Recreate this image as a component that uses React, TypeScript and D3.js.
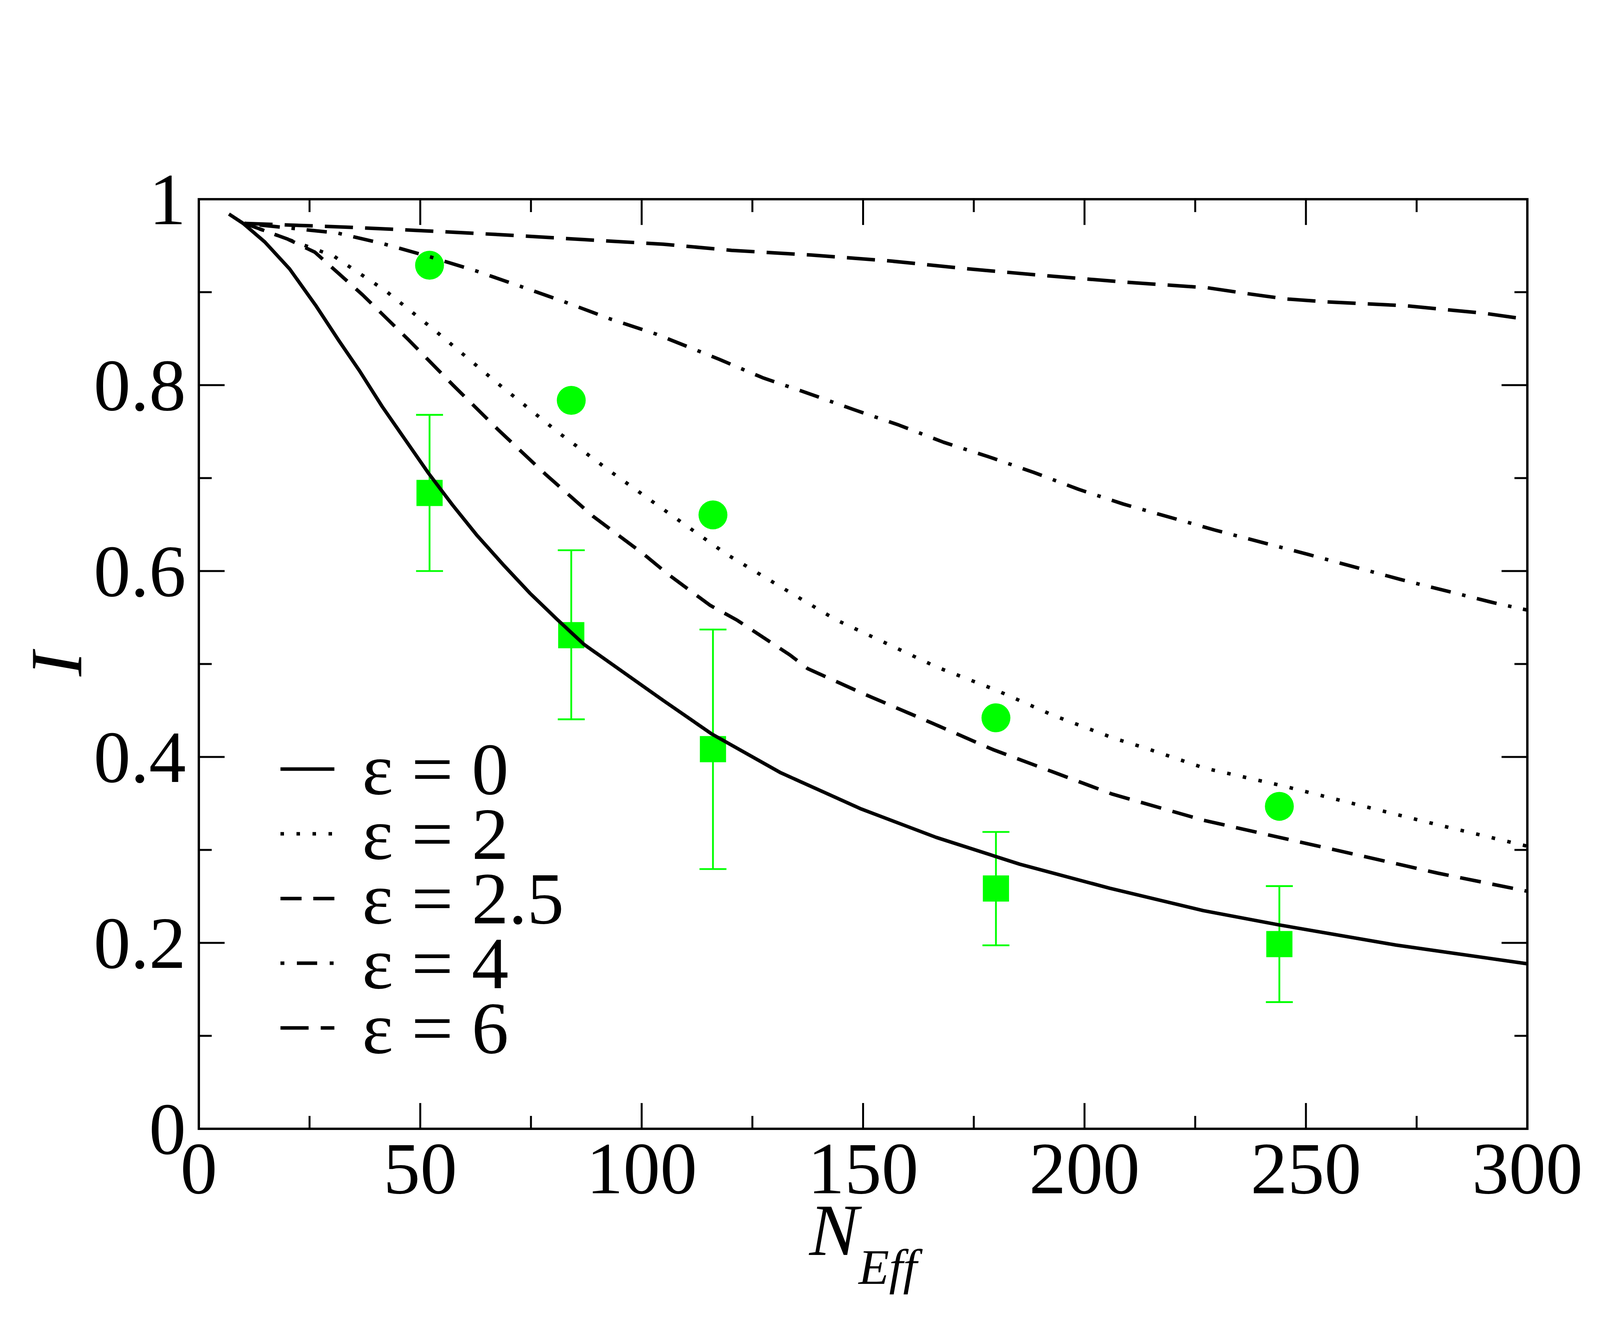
import React from "react";
import * as d3 from "d3";

// ---- data ----
const eps0: [number, number][] = [
  [6.8, 0.984], [10.0, 0.974], [14.9, 0.954], [20.5, 0.925], [26.5, 0.885], [31.6, 0.848],
  [36.2, 0.816], [41.4, 0.777], [46.5, 0.742], [51.9, 0.705], [57.3, 0.671], [62.7, 0.639],
  [68.7, 0.607], [74.8, 0.576], [80.9, 0.548], [87.0, 0.521], [105.1, 0.46], [115.9, 0.4245],
  [131.4, 0.383], [149.6, 0.344], [166.5, 0.3135], [185.4, 0.2846], [205.7, 0.2588],
  [226.8, 0.2347], [244.0, 0.2193], [270.3, 0.1977], [300, 0.1775],
];
const eps2: [number, number][] = [
  [10.3, 0.974], [30.4, 0.939], [42.3, 0.901], [53.5, 0.858], [67.2, 0.803], [81.2, 0.749],
  [92.7, 0.708], [104.4, 0.668], [119.2, 0.618], [131.4, 0.583], [143.9, 0.5475],
  [156.7, 0.519], [166.5, 0.497], [180.0, 0.472], [192.8, 0.445], [206.7, 0.42],
  [213.5, 0.41], [227.1, 0.388], [244.7, 0.369], [262.2, 0.348], [279.8, 0.327], [300, 0.304],
];
const eps25: [number, number][] = [
  [10.3, 0.974], [20.1, 0.957], [26.2, 0.943], [37.0, 0.897], [47.3, 0.849], [57.4, 0.8],
  [67.6, 0.752], [78.2, 0.7045], [89.0, 0.659], [100.5, 0.618], [106.1, 0.596],
  [115.5, 0.563], [121.6, 0.547], [133.4, 0.51], [137.5, 0.495], [149.6, 0.469],
  [165.8, 0.436], [179.3, 0.408], [192.8, 0.384], [206.3, 0.36], [226.8, 0.332],
  [244.0, 0.3135], [262.2, 0.294], [279.8, 0.275], [300, 0.2555],
];
const eps4: [number, number][] = [
  [10.3, 0.974], [31.3, 0.9636], [41.7, 0.952], [52.2, 0.938], [62.5, 0.923], [72.8, 0.906],
  [82.9, 0.889], [93.0, 0.871], [103.2, 0.855], [117.4, 0.828], [127.3, 0.808],
  [137.7, 0.791], [147.7, 0.774], [158.1, 0.757], [168.2, 0.7385], [178.3, 0.723],
  [188.6, 0.706], [198.6, 0.688], [208.8, 0.672], [229.5, 0.644], [250.4, 0.618],
  [271.3, 0.591], [292.3, 0.566], [300, 0.558],
];
const eps6: [number, number][] = [
  [10.3, 0.974], [33.1, 0.97], [51.05, 0.966], [69.1, 0.9616], [87.1, 0.9565],
  [104.9, 0.9516], [120.3, 0.945], [138.1, 0.94], [156.0, 0.9336], [173.9, 0.925],
  [191.8, 0.9175], [210.0, 0.9105], [227.8, 0.9047], [236.6, 0.8985], [245.5, 0.8927],
  [254.5, 0.8896], [272.5, 0.8854], [290.4, 0.8772], [300, 0.8707],
];

const circleN = [52.1, 84.1, 116.1, 180.0, 244.0];
const circleI = [0.929, 0.7836, 0.6604, 0.4421, 0.3469];

const squareN = [52.1, 84.1, 116.1, 180.0, 244.0];
const squareI = [0.684, 0.531, 0.4084, 0.2585, 0.1987];
const squareHi = [0.768, 0.6224, 0.5371, 0.3193, 0.2611];
const squareLo = [0.6, 0.4405, 0.2794, 0.1974, 0.1363];

const legendLabels = ["ε = 0", "ε = 2", "ε = 2.5", "ε = 4", "ε = 6"];

const xMajor = [0, 50, 100, 150, 200, 250, 300];
const xMinor = [25, 75, 125, 175, 225, 275];
const yMajor = [0, 0.2, 0.4, 0.6, 0.8, 1];
const yMinor = [0.1, 0.3, 0.5, 0.7, 0.9];
const yLabels = ["0", "0.2", "0.4", "0.6", "0.8", "1"];

// ---- layout ----
const W = 4400, H = 3400;
const L = 509, R = 3910, T = 510, B = 2890;
const FONT = "'Liberation Serif', 'Times New Roman', Times, serif";
const FS = 189;
const GREEN = "#00ff00";

const series = [
  { data: eps0, dash: undefined as string | undefined },
  { data: eps2, dash: "9 32" },
  { data: eps25, dash: "54 30" },
  { data: eps4, dash: "9 30 52 30" },
  { data: eps6, dash: "72 31" },
];

export default function App() {
  const x = d3.scaleLinear().domain([0, 300]).range([L, R]);
  const y = d3.scaleLinear().domain([0, 1]).range([B, T]);
  const line = d3.line<[number, number]>().x((d) => x(d[0])).y((d) => y(d[1]));

  const MAJ = 66, MIN = 33, TW = 5;
  const legX0 = 718, legX1 = 856, legY0 = 1969, legDY = 165.7;

  return (
    <svg
      width={W}
      height={H}
      viewBox={`0 0 ${W} ${H}`}
      style={{ position: "absolute", left: 0, top: 0, display: "block", background: "#fff" }}
    >
      <rect x={0} y={0} width={W} height={H} fill="#fff" />

      {/* error bars */}
      {squareN.map((n, i) => (
        <g key={"eb" + i} stroke={GREEN} strokeWidth={4.6} fill="none">
          <line x1={x(n)} x2={x(n)} y1={y(squareHi[i])} y2={y(squareLo[i])} />
          <line x1={x(n) - 34.5} x2={x(n) + 34.5} y1={y(squareHi[i])} y2={y(squareHi[i])} />
          <line x1={x(n) - 34.5} x2={x(n) + 34.5} y1={y(squareLo[i])} y2={y(squareLo[i])} />
        </g>
      ))}
      {squareN.map((n, i) => (
        <rect key={"sq" + i} x={x(n) - 33.5} y={y(squareI[i]) - 33.5} width={67} height={67} fill={GREEN} />
      ))}
      {circleN.map((n, i) => (
        <circle key={"c" + i} cx={x(n)} cy={y(circleI[i])} r={37} fill={GREEN} />
      ))}

      {/* model curves */}
      {series.map((s, i) => (
        <path
          key={"s" + i}
          d={line(s.data) || ""}
          fill="none"
          stroke="#000"
          strokeWidth={9}
          strokeDasharray={s.dash}
          strokeLinecap="butt"
          strokeLinejoin="round"
        />
      ))}

      {/* frame */}
      <rect x={L} y={T} width={R - L} height={B - T} fill="none" stroke="#000" strokeWidth={6} />

      {/* ticks */}
      <g stroke="#000" strokeWidth={TW}>
        {xMajor.map((v) => (
          <g key={"xM" + v}>
            <line x1={x(v)} x2={x(v)} y1={B} y2={B - MAJ} />
            <line x1={x(v)} x2={x(v)} y1={T} y2={T + MAJ} />
          </g>
        ))}
        {xMinor.map((v) => (
          <g key={"xm" + v}>
            <line x1={x(v)} x2={x(v)} y1={B} y2={B - MIN} />
            <line x1={x(v)} x2={x(v)} y1={T} y2={T + MIN} />
          </g>
        ))}
        {yMajor.map((v) => (
          <g key={"yM" + v}>
            <line x1={L} x2={L + MAJ} y1={y(v)} y2={y(v)} />
            <line x1={R} x2={R - MAJ} y1={y(v)} y2={y(v)} />
          </g>
        ))}
        {yMinor.map((v) => (
          <g key={"ym" + v}>
            <line x1={L} x2={L + MIN} y1={y(v)} y2={y(v)} />
            <line x1={R} x2={R - MIN} y1={y(v)} y2={y(v)} />
          </g>
        ))}
      </g>

      {/* tick labels */}
      <g fontFamily={FONT} fontSize={FS} fill="#000">
        {xMajor.map((v) => (
          <text key={"xl" + v} x={x(v)} y={3055} textAnchor="middle">
            {String(v)}
          </text>
        ))}
        {yMajor.map((v, i) => (
          <text key={"yl" + v} x={476} y={y(v) + 64} textAnchor="end">
            {yLabels[i]}
          </text>
        ))}
      </g>

      {/* axis titles */}
      <text
        fontFamily={FONT}
        fontSize={FS}
        fontStyle="italic"
        textAnchor="middle"
        transform={`translate(208, ${(T + B) / 2}) rotate(-90)`}
      >
        I
      </text>
      <text fontFamily={FONT} fontSize={FS} fontStyle="italic" x={(L + R) / 2} y={3213} textAnchor="middle">
        <tspan>N</tspan>
        <tspan fontSize={128} dy={74}>Eff</tspan>
      </text>

      {/* legend */}
      {series.map((s, i) => (
        <g key={"lg" + i}>
          <line
            x1={legX0}
            x2={legX1}
            y1={legY0 + i * legDY}
            y2={legY0 + i * legDY}
            stroke="#000"
            strokeWidth={9}
            strokeDasharray={i === 3 ? "10 32 52 32" : s.dash}
          />
          <text x={927} y={legY0 + i * legDY + 64} fontFamily={FONT} fontSize={FS}>
            {legendLabels[i]}
          </text>
        </g>
      ))}
    </svg>
  );
}
